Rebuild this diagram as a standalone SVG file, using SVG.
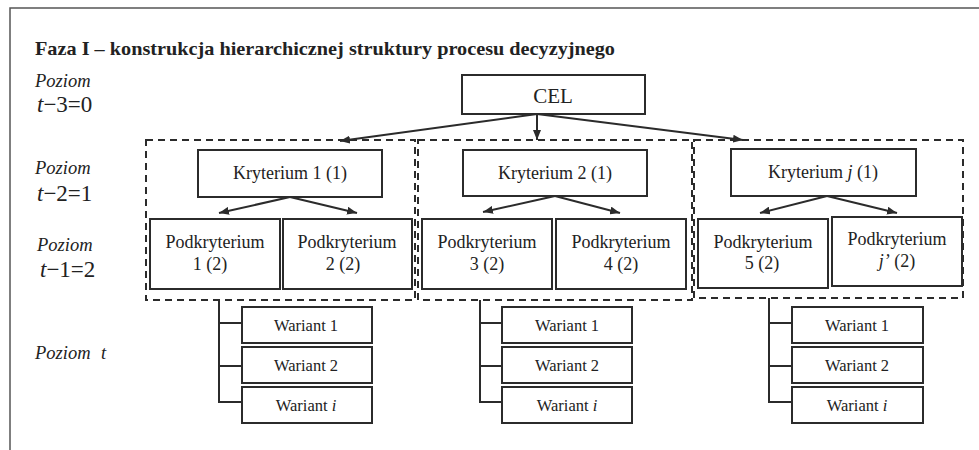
<svg xmlns="http://www.w3.org/2000/svg" width="979" height="450" viewBox="0 0 979 450">
<defs>
<marker id="ah" viewBox="0 0 10 8" refX="10" refY="4" markerWidth="10" markerHeight="8" markerUnits="userSpaceOnUse" orient="auto">
<path d="M0,0 L10,4 L0,8 Z" fill="#2b2b2b"/>
</marker>
</defs>
<style>
text{font-family:"Liberation Serif","DejaVu Serif","Noto Serif",serif;fill:#222}
.box{fill:#fff;stroke:#2b2b2b;stroke-width:2}
.dash{fill:none;stroke:#2b2b2b;stroke-width:2;stroke-dasharray:7 5}
.t{text-anchor:middle}
.n{font-size:18px}
.w{font-size:16.5px}
.lv{font-style:italic;font-size:18.5px}
.eq{font-size:23px}
.c{fill:none;stroke:#2b2b2b;stroke-width:2}
.a{fill:none;stroke:#2b2b2b;stroke-width:2;marker-end:url(#ah)}
</style>
<rect width="979" height="450" fill="#fff"/>
<path d="M10,450 L10,8 L979,8" fill="none" stroke="#555" stroke-width="1.5"/>
<text x="35" y="55" font-weight="bold" font-size="19.5" textLength="580" lengthAdjust="spacingAndGlyphs">Faza I – konstrukcja hierarchicznej struktury procesu decyzyjnego</text>

<g id="levels">
<text class="lv" x="35" y="87">Poziom</text>
<text class="eq" x="37" y="112"><tspan font-style="italic">t</tspan>−3=0</text>
<text class="lv" x="35" y="174">Poziom</text>
<text class="eq" x="37" y="201"><tspan font-style="italic">t</tspan>−2=1</text>
<text class="lv" x="37" y="251">Poziom</text>
<text class="eq" x="40" y="277"><tspan font-style="italic">t</tspan>−1=2</text>
<text class="lv" x="35" y="359">Poziom<tspan x="101">t</tspan></text>
</g>

<g id="group1"><rect class="dash" x="146" y="140" width="269" height="160"/></g>
<g id="group2"><rect class="dash" x="418" y="140" width="274" height="160"/></g>
<g id="group3"><rect class="dash" x="694" y="140" width="269" height="158"/></g>

<g id="connectors">
<line class="a" x1="537" y1="114" x2="340" y2="141"/>
<line class="a" x1="537" y1="114" x2="537" y2="140"/>
<line class="a" x1="537" y1="114" x2="743" y2="140"/>
<line class="a" x1="290" y1="197" x2="219" y2="213"/>
<line class="a" x1="290" y1="197" x2="357" y2="213"/>
<line class="a" x1="555" y1="196" x2="483" y2="212"/>
<line class="a" x1="555" y1="196" x2="620" y2="213"/>
<line class="a" x1="827" y1="196" x2="760" y2="213"/>
<line class="a" x1="827" y1="196" x2="897" y2="213"/>
<path class="c" d="M219,300 V402 H242 M219,323 H242 M219,366 H242"/>
<path class="c" d="M480,300 V402 H502 M480,323 H502 M480,366 H502"/>
<path class="c" d="M769,298 V402 H792 M769,323 H792 M769,366 H792"/>
</g>

<g id="cel"><rect class="box" x="462" y="75" width="183" height="39"/><text class="t" x="553" y="103" font-size="21">CEL</text></g>

<g id="kryt1"><rect class="box" x="198" y="150" width="184" height="47"/><text class="t n" x="290" y="179">Kryterium 1 (1)</text></g>
<g id="kryt2"><rect class="box" x="463" y="150" width="184" height="46"/><text class="t n" x="555" y="179">Kryterium 2 (1)</text></g>
<g id="krytj"><rect class="box" x="731" y="149" width="185" height="47"/><text class="t n" x="823" y="178">Kryterium <tspan font-style="italic">j</tspan> (1)</text></g>

<g id="pk1"><rect class="box" x="150" y="219" width="130" height="70"/><text class="t n" x="215" y="248">Podkryterium</text><text class="t n" x="210" y="270">1 (2)</text></g>
<g id="pk2"><rect class="box" x="283" y="219" width="129" height="70"/><text class="t n" x="347" y="248">Podkryterium</text><text class="t n" x="343" y="270">2 (2)</text></g>
<g id="pk3"><rect class="box" x="422" y="219" width="130" height="70"/><text class="t n" x="487" y="248">Podkryterium</text><text class="t n" x="487" y="270">3 (2)</text></g>
<g id="pk4"><rect class="box" x="556" y="219" width="130" height="70"/><text class="t n" x="621" y="248">Podkryterium</text><text class="t n" x="621" y="270">4 (2)</text></g>
<g id="pk5"><rect class="box" x="698" y="219" width="130" height="69"/><text class="t n" x="763" y="248">Podkryterium</text><text class="t n" x="762" y="269">5 (2)</text></g>
<g id="pkj"><rect class="box" x="832" y="217" width="130" height="69"/><text class="t n" x="897" y="245">Podkryterium</text><text class="t n" x="897" y="267"><tspan font-style="italic">j’</tspan> (2)</text></g>

<g id="w11"><rect class="box" x="242" y="307" width="130" height="36"/><text class="t w" x="306" y="331">Wariant 1</text></g>
<g id="w12"><rect class="box" x="242" y="347" width="130" height="36"/><text class="t w" x="306" y="371">Wariant 2</text></g>
<g id="w1i"><rect class="box" x="242" y="387" width="130" height="36"/><text class="t w" x="306" y="411">Wariant <tspan font-style="italic">i</tspan></text></g>

<g id="w21"><rect class="box" x="502" y="307" width="130" height="36"/><text class="t w" x="567" y="331">Wariant 1</text></g>
<g id="w22"><rect class="box" x="502" y="347" width="130" height="36"/><text class="t w" x="567" y="371">Wariant 2</text></g>
<g id="w2i"><rect class="box" x="502" y="387" width="130" height="36"/><text class="t w" x="567" y="411">Wariant <tspan font-style="italic">i</tspan></text></g>

<g id="w31"><rect class="box" x="792" y="307" width="131" height="36"/><text class="t w" x="857" y="331">Wariant 1</text></g>
<g id="w32"><rect class="box" x="792" y="347" width="131" height="36"/><text class="t w" x="857" y="371">Wariant 2</text></g>
<g id="w3i"><rect class="box" x="792" y="387" width="131" height="36"/><text class="t w" x="857" y="411">Wariant <tspan font-style="italic">i</tspan></text></g>
</svg>
